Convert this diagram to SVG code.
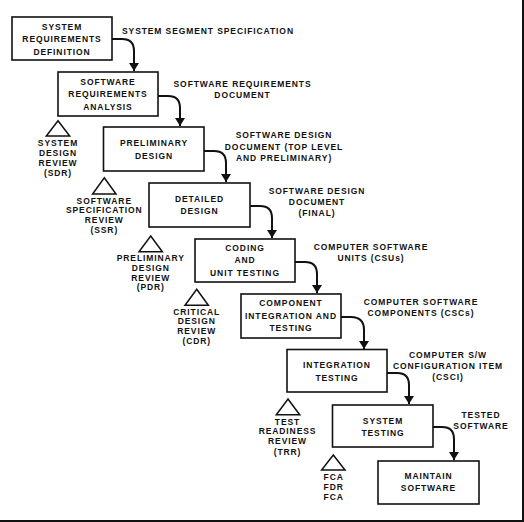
<svg xmlns="http://www.w3.org/2000/svg" width="524" height="522" viewBox="0 0 524 522">
<style>
text{font-family:"Liberation Sans",Arial,sans-serif;font-weight:bold;font-size:8.5px;letter-spacing:0.9px;fill:#111}
.c{text-anchor:middle}
.box{fill:#fff;stroke:#111;stroke-width:1.6}
.tri{fill:none;stroke:#111;stroke-width:1.5}
.con{fill:none;stroke:#111;stroke-width:2}
.frame{stroke:#111;stroke-width:2;fill:none}
</style>
<defs>
<marker id="ah" viewBox="0 0 8 10" refX="8" refY="5" markerWidth="8" markerHeight="10" markerUnits="userSpaceOnUse" orient="auto">
<path d="M0,0 L8,5 L0,10 z" fill="#111"/>
</marker>
</defs>
<rect width="524" height="522" fill="#fff"/>
<path class="frame" d="M0,521 L523,521 L523,0"/>

<g id="connectors">
<path class="con" marker-end="url(#ah)" d="M112,39 L122,39 Q134,39 134,51 L134,71"/>
<path class="con" marker-end="url(#ah)" d="M158,96 L168,96 Q180,96 180,108 L180,126"/>
<path class="con" marker-end="url(#ah)" d="M204,151 L214,151 Q226,151 226,163 L226,182"/>
<path class="con" marker-end="url(#ah)" d="M250,206 L260,206 Q272,206 272,218 L272,238"/>
<path class="con" marker-end="url(#ah)" d="M295,262 L305,262 Q317,262 317,274 L317,293"/>
<path class="con" marker-end="url(#ah)" d="M341,317 L351,317 Q364,317 364,330 L364,349"/>
<path class="con" marker-end="url(#ah)" d="M387,373 L397,373 Q409,373 409,385 L409,404"/>
<path class="con" marker-end="url(#ah)" d="M433,427 L442,427 Q454,427 454,439 L454,460"/>
</g>

<g id="n1">
<rect class="box" x="12" y="17" width="100" height="43"/>
<text class="c" x="62" y="29.5">SYSTEM</text>
<text class="c" x="62" y="41.8">REQUIREMENTS</text>
<text class="c" x="62" y="54.5">DEFINITION</text>
</g>
<g id="n2">
<rect class="box" x="58" y="72" width="100" height="44"/>
<text class="c" x="108" y="84.7">SOFTWARE</text>
<text class="c" x="108" y="97">REQUIREMENTS</text>
<text class="c" x="108" y="109.7">ANALYSIS</text>
</g>
<g id="n3">
<rect class="box" x="103.5" y="127" width="100.5" height="44"/>
<text class="c" x="154" y="146.3">PRELIMINARY</text>
<text class="c" x="154" y="159">DESIGN</text>
</g>
<g id="n4">
<rect class="box" x="149" y="183" width="101" height="44"/>
<text class="c" x="199.5" y="201.7">DETAILED</text>
<text class="c" x="199.5" y="214.3">DESIGN</text>
</g>
<g id="n5">
<rect class="box" x="195" y="239" width="100" height="43"/>
<text class="c" x="245" y="250.7">CODING</text>
<text class="c" x="245" y="263.3">AND</text>
<text class="c" x="245" y="276.3">UNIT TESTING</text>
</g>
<g id="n6">
<rect class="box" x="241" y="294" width="100" height="44"/>
<text class="c" x="291" y="306.3">COMPONENT</text>
<text class="c" x="291" y="318.7">INTEGRATION AND</text>
<text class="c" x="291" y="331.3">TESTING</text>
</g>
<g id="n7">
<rect class="box" x="287" y="349.5" width="100" height="42.5"/>
<text class="c" x="337" y="368">INTEGRATION</text>
<text class="c" x="337" y="380.7">TESTING</text>
</g>
<g id="n8">
<rect class="box" x="332.5" y="405" width="100.5" height="42"/>
<text class="c" x="383" y="423.7">SYSTEM</text>
<text class="c" x="383" y="436.3">TESTING</text>
</g>
<g id="n9">
<rect class="box" x="378" y="461" width="101" height="43"/>
<text class="c" x="428.5" y="478.7">MAINTAIN</text>
<text class="c" x="428.5" y="491.3">SOFTWARE</text>
</g>

<g id="labels">
<text x="122" y="34">SYSTEM SEGMENT SPECIFICATION</text>
<text class="c" x="242.5" y="87">SOFTWARE REQUIREMENTS</text>
<text class="c" x="242.5" y="98">DOCUMENT</text>
<text class="c" x="284" y="138.3">SOFTWARE DESIGN</text>
<text class="c" x="284" y="149.5">DOCUMENT (TOP LEVEL</text>
<text class="c" x="284" y="161">AND PRELIMINARY)</text>
<text class="c" x="317" y="194">SOFTWARE DESIGN</text>
<text class="c" x="317" y="205">DOCUMENT</text>
<text class="c" x="317" y="216.3">(FINAL)</text>
<text class="c" x="371" y="249.7">COMPUTER SOFTWARE</text>
<text class="c" x="371" y="260.7">UNITS (CSUs)</text>
<text class="c" x="421" y="304.7">COMPUTER SOFTWARE</text>
<text class="c" x="421" y="315.7">COMPONENTS (CSCs)</text>
<text class="c" x="448" y="358">COMPUTER S/W</text>
<text class="c" x="448" y="369">CONFIGURATION ITEM</text>
<text class="c" x="448" y="380">(CSCI)</text>
<text class="c" x="481" y="418">TESTED</text>
<text class="c" x="481" y="428.7">SOFTWARE</text>
</g>

<g id="r1">
<path class="tri" d="M58,120.7 L69.7,136 L46.3,136 z"/>
<text class="c" x="58" y="146.3">SYSTEM</text>
<text class="c" x="58" y="156">DESIGN</text>
<text class="c" x="58" y="165.7">REVIEW</text>
<text class="c" x="58" y="175.7">(SDR)</text>
</g>
<g id="r2">
<path class="tri" d="M104.3,177.7 L116,194 L92.6,194 z"/>
<text class="c" x="104.3" y="203.7">SOFTWARE</text>
<text class="c" x="104.3" y="213.3">SPECIFICATION</text>
<text class="c" x="104.3" y="223.3">REVIEW</text>
<text class="c" x="104.3" y="233.3">(SSR)</text>
</g>
<g id="r3">
<path class="tri" d="M150.7,236 L162.4,251.7 L139,251.7 z"/>
<text class="c" x="150.8" y="261.3">PRELIMINARY</text>
<text class="c" x="150.8" y="271">DESIGN</text>
<text class="c" x="150.8" y="280.7">REVIEW</text>
<text class="c" x="150.8" y="290.3">(PDR)</text>
</g>
<g id="r4">
<path class="tri" d="M196.7,289.3 L208.4,305.3 L185,305.3 z"/>
<text class="c" x="196.7" y="314.7">CRITICAL</text>
<text class="c" x="196.7" y="324.3">DESIGN</text>
<text class="c" x="196.7" y="334.3">REVIEW</text>
<text class="c" x="196.7" y="344.3">(CDR)</text>
</g>
<g id="r5">
<path class="tri" d="M288,399 L299.7,414.7 L276.3,414.7 z"/>
<text class="c" x="287.5" y="424.7">TEST</text>
<text class="c" x="287.5" y="434.3">READINESS</text>
<text class="c" x="287.5" y="444.3">REVIEW</text>
<text class="c" x="287.5" y="454.7">(TRR)</text>
</g>
<g id="r6">
<path class="tri" d="M333.3,455 L345,470 L321.6,470 z"/>
<text class="c" x="333.7" y="480.3">FCA</text>
<text class="c" x="333.7" y="490">FDR</text>
<text class="c" x="333.7" y="499.7">FCA</text>
</g>
</svg>
